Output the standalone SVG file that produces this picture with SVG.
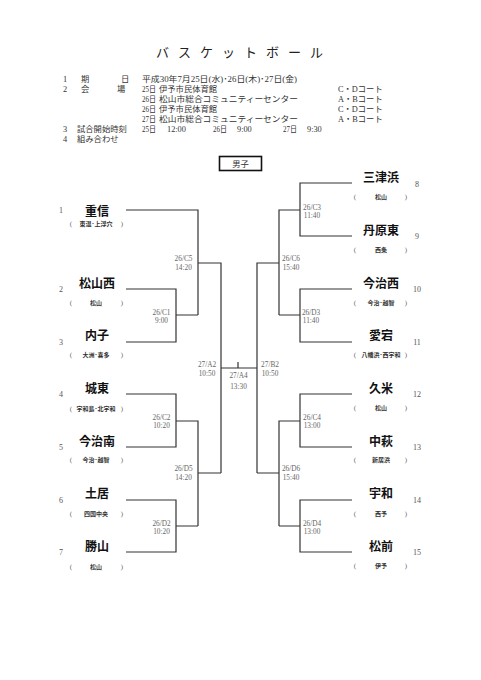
<svg xmlns="http://www.w3.org/2000/svg" width="481" height="680" viewBox="0 0 481 680">
<style>
.title{font-family:"Noto Sans CJK JP",sans-serif;font-size:13px;fill:#222}
.info{font-family:"Liberation Serif","Noto Sans CJK JP",serif;font-size:8.3px;fill:#333}
.name{font-family:"Noto Sans CJK JP",sans-serif;font-size:12px;font-weight:bold;fill:#111;text-anchor:middle}
.sub{font-family:"Noto Sans CJK JP",sans-serif;font-size:6px;font-weight:bold;fill:#333;text-anchor:middle}
.par{font-family:"Liberation Serif",serif;font-size:7px;fill:#666;text-anchor:middle}
.num{font-family:"Liberation Serif",serif;font-size:8px;fill:#555;text-anchor:middle}
.lbl{font-family:"Liberation Serif",serif;font-size:7.3px;fill:#666;text-anchor:middle}
.ln{fill:none;stroke:#333;stroke-width:1.2}
</style>
<rect width="481" height="680" fill="#fff"/>
<g id="header">
<text class="title" x="156" y="57" letter-spacing="9">バスケットボール</text>
<text class="info" x="63" y="82">1</text><text class="info" x="81" y="82">期</text><text class="info" x="121" y="82">日</text>
<text class="info" x="142" y="82" textLength="155" lengthAdjust="spacingAndGlyphs">平成30年7月25日(水)･26日(木)･27日(金)</text>
<text class="info" x="63" y="92">2</text><text class="info" x="81" y="92">会</text><text class="info" x="117" y="92">場</text>
<text class="info" x="142" y="92" textLength="14" lengthAdjust="spacingAndGlyphs">25日</text><text class="info" x="159" y="92">伊予市民体育館</text><text class="info" x="338" y="92">C・Dコート</text>
<text class="info" x="142" y="102" textLength="14" lengthAdjust="spacingAndGlyphs">26日</text><text class="info" x="159" y="102" textLength="139" lengthAdjust="spacingAndGlyphs">松山市総合コミュニティーセンター</text><text class="info" x="338" y="102">A・Bコート</text>
<text class="info" x="142" y="112" textLength="14" lengthAdjust="spacingAndGlyphs">26日</text><text class="info" x="159" y="112">伊予市民体育館</text><text class="info" x="338" y="112">C・Dコート</text>
<text class="info" x="142" y="122" textLength="14" lengthAdjust="spacingAndGlyphs">27日</text><text class="info" x="159" y="122" textLength="139" lengthAdjust="spacingAndGlyphs">松山市総合コミュニティーセンター</text><text class="info" x="338" y="122">A・Bコート</text>
<text class="info" x="63" y="132">3</text><text class="info" x="77" y="132">試合開始時刻</text>
<text class="info" x="142" y="132" textLength="14" lengthAdjust="spacingAndGlyphs">25日</text><text class="info" x="167" y="132">12:00</text>
<text class="info" x="213" y="132" textLength="14" lengthAdjust="spacingAndGlyphs">26日</text><text class="info" x="237" y="132">9:00</text>
<text class="info" x="283" y="132" textLength="14" lengthAdjust="spacingAndGlyphs">27日</text><text class="info" x="307" y="132">9:30</text>
<text class="info" x="63" y="142">4</text><text class="info" x="77" y="142">組み合わせ</text>
</g>
<g id="division">
<rect x="219.5" y="156.5" width="42" height="14" fill="none" stroke="#111" stroke-width="1.6"/>
<text class="info" x="240.5" y="167" text-anchor="middle" font-size="9">男子</text>
</g>
<g id="connectors">
<path class="ln" d="M126,210 H198 V315 M126,289 H176 V342 H126 M176,315 H198 M198,263 H221 V473"/>
<path class="ln" d="M126,394 H176 V447 H126 M176,421 H198 V526 M126,500 H176 V552 H126 M176,526 H198 M198,473 H221"/>
<path class="ln" d="M221,368 H257 M238,362 V368"/>
<path class="ln" d="M352,183 H300 V236 H352 M300,210 H279 V315 M352,289 H300 V342 H352 M300,315 H279 M279,263 H257 V473"/>
<path class="ln" d="M352,394 H300 V447 H352 M300,421 H279 V526 M352,500 H300 V552 H352 M300,526 H279 M279,473 H257"/>
</g>
<g id="labels">
<text class="lbl" x="183.5" y="260.5">26/C5</text><text class="lbl" x="183.5" y="269.5">14:20</text>
<text class="lbl" x="161.5" y="314.5">26/C1</text><text class="lbl" x="161.5" y="322.5">9:00</text>
<text class="lbl" x="161.5" y="419.5">26/C2</text><text class="lbl" x="161.5" y="427.5">10:20</text>
<text class="lbl" x="183.5" y="470.5">26/D5</text><text class="lbl" x="183.5" y="479.5">14:20</text>
<text class="lbl" x="161.5" y="525.5">26/D2</text><text class="lbl" x="161.5" y="533.5">10:20</text>
<text class="lbl" x="207" y="366.5">27/A2</text><text class="lbl" x="207" y="375.5">10:50</text>
<text class="lbl" x="238.5" y="377.5">27/A4</text><text class="lbl" x="238.5" y="388.5">13:30</text>
<text class="lbl" x="270" y="366.5">27/B2</text><text class="lbl" x="270" y="375.5">10:50</text>
<text class="lbl" x="312" y="209.5">26/C3</text><text class="lbl" x="312" y="217.5">11:40</text>
<text class="lbl" x="291" y="260.5">26/C6</text><text class="lbl" x="291" y="269.5">15:40</text>
<text class="lbl" x="311" y="314.5">26/D3</text><text class="lbl" x="311" y="322.5">11:40</text>
<text class="lbl" x="312" y="419.5">26/C4</text><text class="lbl" x="312" y="427.5">13:00</text>
<text class="lbl" x="291" y="470.5">26/D6</text><text class="lbl" x="291" y="479.5">15:40</text>
<text class="lbl" x="312" y="525.5">26/D4</text><text class="lbl" x="312" y="533.5">13:00</text>
</g>
<g id="team1"><text class="num" x="61" y="213">1</text><text class="name" x="97" y="215.5">重信</text><text class="par" x="71" y="225.5">(</text><text class="sub" x="96" y="225.5">東温･上浮穴</text><text class="par" x="122" y="225.5">)</text></g>
<g id="team2"><text class="num" x="61" y="292">2</text><text class="name" x="97" y="287.5">松山西</text><text class="par" x="71" y="304.5">(</text><text class="sub" x="96" y="304.5">松山</text><text class="par" x="122" y="304.5">)</text></g>
<g id="team3"><text class="num" x="61" y="345">3</text><text class="name" x="97" y="339.5">内子</text><text class="par" x="71" y="356.5">(</text><text class="sub" x="96" y="356.5">大洲･喜多</text><text class="par" x="122" y="356.5">)</text></g>
<g id="team4"><text class="num" x="61" y="397">4</text><text class="name" x="97" y="392.5">城東</text><text class="par" x="71" y="410.5">(</text><text class="sub" x="96" y="410.5">宇和島･北宇和</text><text class="par" x="122" y="410.5">)</text></g>
<g id="team5"><text class="num" x="61" y="450">5</text><text class="name" x="97" y="445.5">今治南</text><text class="par" x="71" y="461.5">(</text><text class="sub" x="96" y="461.5">今治･越智</text><text class="par" x="122" y="461.5">)</text></g>
<g id="team6"><text class="num" x="61" y="503">6</text><text class="name" x="97" y="497.5">土居</text><text class="par" x="71" y="515.5">(</text><text class="sub" x="96" y="515.5">四国中央</text><text class="par" x="122" y="515.5">)</text></g>
<g id="team7"><text class="num" x="61" y="555">7</text><text class="name" x="97" y="550.5">勝山</text><text class="par" x="71" y="568.5">(</text><text class="sub" x="96" y="568.5">松山</text><text class="par" x="122" y="568.5">)</text></g>
<g id="team8"><text class="num" x="417" y="187">8</text><text class="name" x="381" y="181.5">三津浜</text><text class="par" x="355" y="198.5">(</text><text class="sub" x="381" y="198.5">松山</text><text class="par" x="406" y="198.5">)</text></g>
<g id="team9"><text class="num" x="417" y="239">9</text><text class="name" x="381" y="234.5">丹原東</text><text class="par" x="355" y="251.5">(</text><text class="sub" x="381" y="251.5">西条</text><text class="par" x="406" y="251.5">)</text></g>
<g id="team10"><text class="num" x="417" y="292">10</text><text class="name" x="381" y="287.5">今治西</text><text class="par" x="355" y="304.5">(</text><text class="sub" x="381" y="304.5">今治･越智</text><text class="par" x="406" y="304.5">)</text></g>
<g id="team11"><text class="num" x="417" y="345">11</text><text class="name" x="381" y="339.5">愛宕</text><text class="par" x="355" y="356.5">(</text><text class="sub" x="381" y="356.5">八幡浜･西宇和</text><text class="par" x="406" y="356.5">)</text></g>
<g id="team12"><text class="num" x="417" y="397">12</text><text class="name" x="381" y="392.5">久米</text><text class="par" x="355" y="409.5">(</text><text class="sub" x="381" y="409.5">松山</text><text class="par" x="406" y="409.5">)</text></g>
<g id="team13"><text class="num" x="417" y="450">13</text><text class="name" x="381" y="445.5">中萩</text><text class="par" x="355" y="461.5">(</text><text class="sub" x="381" y="461.5">新居浜</text><text class="par" x="406" y="461.5">)</text></g>
<g id="team14"><text class="num" x="417" y="503">14</text><text class="name" x="381" y="497.5">宇和</text><text class="par" x="355" y="515.5">(</text><text class="sub" x="381" y="515.5">西予</text><text class="par" x="406" y="515.5">)</text></g>
<g id="team15"><text class="num" x="417" y="555">15</text><text class="name" x="381" y="550.5">松前</text><text class="par" x="355" y="567.5">(</text><text class="sub" x="381" y="567.5">伊予</text><text class="par" x="406" y="567.5">)</text></g>
</svg>
